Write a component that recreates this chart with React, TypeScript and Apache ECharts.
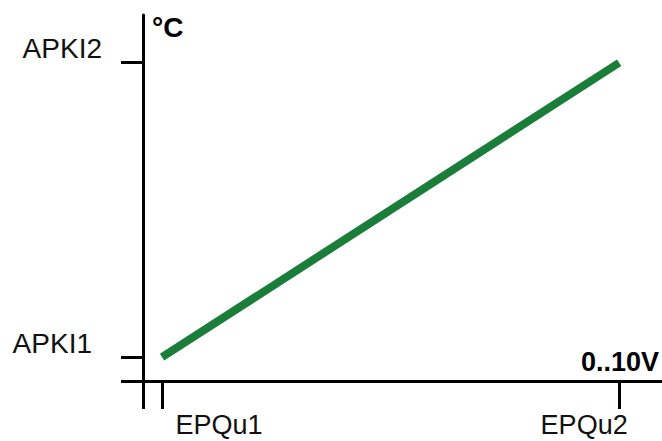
import React, { useEffect, useRef } from "react";
import * as echarts from "echarts";

const xTickValues = [0, 0.4, 10];
const xLabelValues = [0.4, 10];
const xTickLabels = ["EPQu1", "EPQu2"];
const yTickValues = [0, 3, 40];
const yLabelValues = [3, 40];
const yTickLabels = ["APKI1", "APKI2"];
const lineX = [0.4, 10];
const lineY = [3, 40];
const xName = "0..10V";
const yName = "°C";

export default function App() {
  const ref = useRef<HTMLDivElement>(null);
  useEffect(() => {
    if (!ref.current) return;
    const chart = echarts.init(ref.current, null, { renderer: "svg" });
    const font = "'Liberation Sans', Arial, sans-serif";
    chart.setOption({
      animation: false,
      backgroundColor: "#ffffff",
      grid: {
        left: 143,
        right: 0,
        top: 15,
        bottom: 60,
        containLabel: false,
        outerBoundsMode: "none",
      },
      xAxis: {
        type: "value",
        min: 0,
        max: 10.9,
        splitLine: { show: false },
        axisLine: { show: true, onZero: false, lineStyle: { color: "#000", width: 3 } },
        axisTick: {
          show: true,
          customValues: xTickValues,
          length: 28,
          lineStyle: { color: "#000", width: 3 },
        },
        axisLabel: {
          show: true,
          customValues: xLabelValues,
          margin: 33,
          formatter: (v: number) => {
            const i = xLabelValues.indexOf(v);
            if (i < 0) return "";
            return i === 0 ? `{a|${xTickLabels[i]}}` : `{b|${xTickLabels[i]}}`;
          },
          rich: {
            a: { fontSize: 27, lineHeight: 22, fontFamily: font, color: "#111", padding: [0, 0, 0, 114] },
            b: { fontSize: 27, lineHeight: 22, fontFamily: font, color: "#111", padding: [0, 70, 0, 0] },
          },
        },
        name: xName,
        nameLocation: "end",
        nameGap: -3,
        nameTextStyle: {
          fontSize: 27,
          fontWeight: "bold",
          fontFamily: font,
          color: "#000",
          align: "right",
          verticalAlign: "bottom",
          padding: [0, 0, 6, 0],
        },
      },
      yAxis: {
        type: "value",
        min: 0,
        max: 46,
        splitLine: { show: false },
        axisLine: { show: true, onZero: false, lineStyle: { color: "#000", width: 3 } },
        axisTick: {
          show: true,
          customValues: yTickValues,
          length: 22,
          lineStyle: { color: "#000", width: 3 },
        },
        axisLabel: {
          show: true,
          customValues: yLabelValues,
          margin: 41,
          verticalAlign: "bottom",
          formatter: (v: number) => {
            const i = yLabelValues.indexOf(v);
            if (i < 0) return "";
            return i === 0 ? `{a|${yTickLabels[i]}}` : `{b|${yTickLabels[i]}}`;
          },
          rich: {
            a: { fontSize: 28, fontFamily: font, color: "#111", padding: [0, 10, 0, 0] },
            b: { fontSize: 28, fontFamily: font, color: "#111" },
          },
        },
        name: yName,
        nameLocation: "end",
        nameGap: 2,
        nameTextStyle: {
          fontSize: 28,
          fontWeight: "bold",
          fontFamily: "'Liberation Sans Narrow', 'Liberation Sans', sans-serif",
          color: "#000",
          align: "left",
          verticalAlign: "top",
          padding: [0, 0, 0, 9],
        },
      },
      series: [
        {
          type: "line",
          data: lineX.map((x, i) => [x, lineY[i]]),
          symbol: "none",
          lineStyle: { color: "#1b7d3a", width: 8, cap: "butt" },
        },
      ],
    });
    return () => chart.dispose();
  }, []);
  return <div ref={ref} style={{ width: 662, height: 441, position: "fixed", left: 0, top: 0 }} />;
}
